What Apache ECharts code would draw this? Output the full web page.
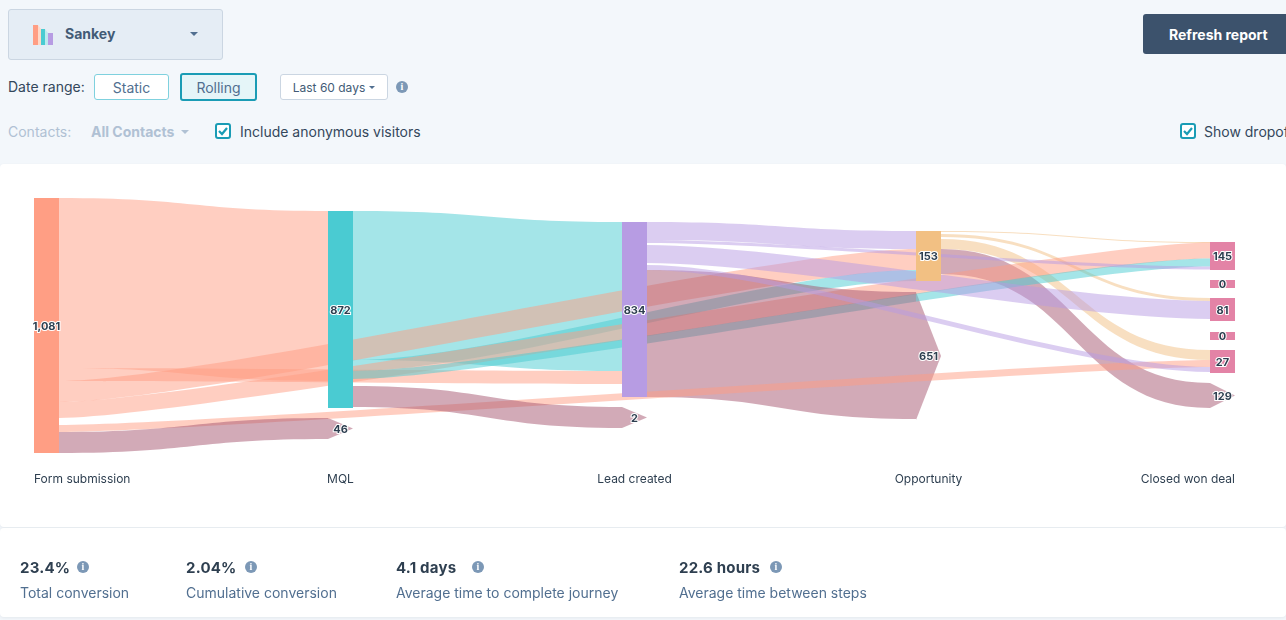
<!DOCTYPE html>
<html>
<head>
<meta charset="utf-8">
<title>Sankey</title>
<script src="https://cdn.jsdelivr.net/npm/echarts@6/dist/echarts.min.js"></script>
<style>
html, body { margin: 0; padding: 0; width: 1286px; height: 620px; overflow: hidden; background: #f3f7fb; font-family: Inter, "Noto Sans", sans-serif; color: #33475b; font-size: 14px; }
.abs { position: absolute; white-space: nowrap; box-sizing: border-box; }
.card { position: absolute; left: 0; width: 1286px; background: #fff; border-radius: 4px; box-shadow: 0 1px 3px rgba(45,62,80,.08); }
#chart { position: absolute; left: 0; top: 0; width: 1286px; height: 620px; }
.btn { display: flex; align-items: center; justify-content: center; border-radius: 3px; }
.caret { position: absolute; width: 0; height: 0; border-left: 4px solid transparent; border-right: 4px solid transparent; border-top: 4px solid #516f90; }
.info { position: absolute; width: 12px; height: 12px; border-radius: 50%; background: #7c98b6; color: #fff; font: 700 10px/12px "Liberation Serif", serif; text-align: center; }
.check { position: absolute; width: 16px; height: 16px; box-sizing: border-box; border: 2px solid #1a9cb5; border-radius: 3px; background: #fff; }
.check svg { position: absolute; left: 1px; top: 1px; }
.num { font-weight: 700; font-size: 15px; letter-spacing: .2px; color: #2e3f50; }
.sub { color: #516f90; font-size: 14px; }
</style>
</head>
<body>
<div class="card" style="top:164px;height:363px"></div>
<div class="card" style="top:528px;height:89px"></div>

<div class="abs" style="left:8px;top:9px;width:215px;height:51px;background:#e5edf5;border:1px solid #cbd6e2;border-radius:3px"></div>
<svg class="abs" style="left:32px;top:24px" width="22" height="22">
  <polygon points="6,1 9,5 9,21 6,21" fill="#ffd9c8"></polygon>
  <polygon points="13,5 16,9 16,21 13,21" fill="#bdeaee"></polygon>
  <rect x="1" y="1" width="5" height="20" fill="#ff9e84"></rect>
  <rect x="9" y="5" width="4" height="16" fill="#4acbd2"></rect>
  <rect x="16" y="9" width="5" height="12" fill="#b79ce3"></rect>
</svg>
<div class="abs" style="left:65px;top:25px;font-weight:700;color:#425b76">Sankey</div>
<div class="caret" style="left:190px;top:32px"></div>

<div class="abs" style="left:8px;top:78px">Date range:</div>
<div class="abs btn" style="left:94px;top:74px;width:75px;height:26px;background:#fff;border:1px solid #7fd1de;color:#516f90">Static</div>
<div class="abs btn" style="left:180px;top:73px;width:77px;height:28px;background:#e5f5f8;border:2px solid #1a9cb5;color:#516f90">Rolling</div>
<div class="abs btn" style="left:280px;top:74px;width:108px;height:26px;background:#fff;border:1px solid #cbd6e2;color:#425b76;font-size:12px;padding-right:10px">Last 60 days</div>
<div class="caret" style="left:369px;top:86px;border-width:3px 3px 0"></div>
<div class="info" style="left:396px;top:81px">i</div>

<div class="abs" style="left:8px;top:123px;color:#b0c1d4">Contacts:</div>
<div class="abs" style="left:91px;top:123px;color:#b0c1d4;font-weight:700">All Contacts</div>
<div class="caret" style="left:181px;top:130px;border-top-color:#b0c1d4"></div>
<div class="check" style="left:215px;top:123px"><svg width="10" height="10"><polyline points="1,5 4,8 9,2" fill="none" stroke="#1a9cb5" stroke-width="2.2"></polyline></svg></div>
<div class="abs" style="left:240px;top:123px">Include anonymous visitors</div>

<div class="abs btn" style="left:1143px;top:14px;width:150px;height:40px;background:#3c526c;color:#fff;font-weight:700;justify-content:flex-start;padding-left:26px">Refresh report</div>
<div class="check" style="left:1180px;top:123px"><svg width="10" height="10"><polyline points="1,5 4,8 9,2" fill="none" stroke="#1a9cb5" stroke-width="2.2"></polyline></svg></div>
<div class="abs" style="left:1204px;top:123px">Show dropoff</div>

<div id="chart"></div>

<div class="abs num" style="left:20px;top:558px">23.4%</div><div class="info" style="left:77px;top:561px">i</div>
<div class="abs sub" style="left:20px;top:584px">Total conversion</div>
<div class="abs num" style="left:186px;top:558px">2.04%</div><div class="info" style="left:245px;top:561px">i</div>
<div class="abs sub" style="left:186px;top:584px">Cumulative conversion</div>
<div class="abs num" style="left:396px;top:558px">4.1 days</div><div class="info" style="left:472px;top:561px">i</div>
<div class="abs sub" style="left:396px;top:584px">Average time to complete journey</div>
<div class="abs num" style="left:679px;top:558px">22.6 hours</div><div class="info" style="left:770px;top:561px">i</div>
<div class="abs sub" style="left:679px;top:584px">Average time between steps</div>

<script>
// steps along the bottom
var stages = ['Form submission', 'MQL', 'Lead created', 'Opportunity', 'Closed won deal'];

// nodes: id, step, count printed on it, band height
var nodeIds    = ['form', 'mql', 'lead', 'opp', 'padOpp', 'drop651', 'drop46', 'drop2', 'won145', 'zeroA', 'won81', 'zeroB', 'padWon', 'won27', 'drop129'];
var nodeSteps  = [0, 1, 2, 3, 3, 3, 1, 2, 4, 4, 4, 4, 4, 4, 4];
var nodeCounts = [1081, 872, 834, 153, null, 651, 46, 2, 145, 0, 81, 0, null, 27, 129];
var nodeBands  = [255, 197, 175, 50, 45, 128, 21, 21, 28, 8, 23, 8, 14, 23, 25];

// links: source, target, band height. order matters, ties stack in this order
var linkSources = ['opp', 'opp', 'opp', 'opp', 'opp', 'opp',
    'form', 'mql', 'form', 'lead', 'form', 'mql', 'form', 'mql', 'lead', 'lead', 'lead', 'lead', 'lead',
    'form', 'mql', 'form', 'lead', 'form', 'mql'];
var linkTargets = ['won145', 'zeroA', 'won81', 'zeroB', 'won27', 'drop129',
    'mql', 'lead', 'lead', 'opp', 'opp', 'opp', 'won145', 'won145', 'won145', 'zeroA', 'won81', 'zeroB', 'drop651',
    'padWon', 'padWon', 'won27', 'won27', 'drop46', 'drop2'];
var linkBands   = [0.6, 2.4, 3, 2, 10, 25,
    170, 149, 13, 18, 21, 11, 16, 8, 3, 2, 18, 2, 127,
    7, 7, 7, 5, 21, 21];

// layout
var chartTop = 198, chartLeft = 34, chartHeight = 255, nodeWidth = 25, stepGap = 294;
var nodeTops = { form: 198, mql: 211, lead: 222, opp: 231, drop651: 292, drop46: 418, drop2: 407,
    won145: 242, zeroA: 280, won81: 298, zeroB: 332, won27: 350, drop129: 383 };
var nodeColors = { form: '#ff9e84', mql: '#4acbd2', lead: '#b79ce3', opp: '#f2c083',
    won145: '#e383a6', zeroA: '#e383a6', won81: '#e383a6', zeroB: '#e383a6', won27: '#e383a6', drop129: 'transparent',
    drop651: 'transparent', drop46: 'transparent', drop2: 'transparent', padOpp: 'transparent', padWon: 'transparent' };
var dropColor = '#a5556f';

function stepOf(id) {
    return nodeSteps[nodeIds.indexOf(id)];
}

function linkColor(source, target) {
    if (target.indexOf('pad') === 0 || target.indexOf('zero') === 0) return 'transparent';
    if (target.indexOf('drop') === 0) return dropColor;
    return nodeColors[source];
}

var sankeyNodes = nodeIds.map(function (id, i) {
    var node = {
        name: id,
        depth: nodeSteps[i],
        value: nodeBands[i],
        itemStyle: { color: nodeColors[id], borderWidth: 0 },
        label: { show: nodeCounts[i] !== null, formatter: nodeCounts[i] === null ? '' : nodeCounts[i].toLocaleString('en-US') }
    };
    if (nodeTops[id] !== undefined) node.localY = (nodeTops[id] - chartTop) / chartHeight;
    return node;
});

// links that skip steps are flatter, same bend per step as a one step link
var sankeyLinks = linkSources.map(function (source, i) {
    var target = linkTargets[i];
    return {
        source: source,
        target: target,
        value: linkBands[i],
        lineStyle: { color: linkColor(source, target), opacity: 0.5, curveness: 0.5 / (stepOf(target) - stepOf(source)) }
    };
});

// arrow heads of the dropoff nodes, on the same step / band scale as the sankey
var dropArrows = nodeIds.map(function (id, i) {
    return [nodeSteps[i], nodeTops[id] - chartTop, nodeBands[i], id];
}).filter(function (row) { return row[3].indexOf('drop') === 0; });

function renderArrow(params, api) {
    var a = api.coord([api.value(0), api.value(1)]);
    var b = api.coord([api.value(0), api.value(1) + api.value(2)]);
    return {
        type: 'polygon',
        shape: { points: [[a[0], a[1]], [a[0] + nodeWidth, (a[1] + b[1]) / 2], [b[0], b[1]]] },
        style: { fill: dropColor, opacity: 0.5 }
    };
}

function renderStage(params, api) {
    var i = params.dataIndex;
    var p = api.coord([i, chartHeight + 26]);
    var align = i === 0 ? 'left' : (i === stages.length - 1 ? 'right' : 'center');
    var x = i === 0 ? p[0] : (i === stages.length - 1 ? p[0] + nodeWidth : p[0] + nodeWidth / 2);
    return {
        type: 'text',
        x: x,
        y: p[1],
        style: { text: stages[i], align: align, verticalAlign: 'middle', fill: '#2e3f50', font: '12px Inter, "Noto Sans", sans-serif' }
    };
}

var myChart = echarts.init(document.getElementById('chart'), null, { renderer: 'canvas' });
var option = {
    animation: false,
    backgroundColor: 'transparent',
    grid: { left: chartLeft, top: chartTop, width: stepGap * 4, height: chartHeight },
    xAxis: { type: 'value', min: 0, max: 4, show: false },
    yAxis: { type: 'value', min: 0, max: chartHeight, inverse: true, show: false },
    series: [
        { type: 'custom', z: 1, coordinateSystem: 'cartesian2d', renderItem: renderArrow, data: dropArrows, silent: true },
        { type: 'custom', z: 1, coordinateSystem: 'cartesian2d', renderItem: renderStage, data: stages.map(function (s, i) { return [i, chartHeight]; }), silent: true },
        {
            type: 'sankey',
            z: 2,
            left: chartLeft,
            top: chartTop,
            width: stepGap * 4 + nodeWidth,
            height: chartHeight,
            nodeWidth: nodeWidth,
            nodeGap: 2,
            nodeAlign: 'left',
            layoutIterations: 0,
            draggable: false,
            silent: true,
            label: {
                show: true,
                position: 'inside',
                offset: [0, 1],
                color: '#2e3f50',
                fontFamily: 'Inter, "Noto Sans", sans-serif',
                fontSize: 11,
                fontWeight: 700,
                textBorderColor: '#fff',
                textBorderWidth: 2
            },
            data: sankeyNodes,
            links: sankeyLinks
        }
    ]
};
myChart.setOption(option);
</script>
</body>
</html>
